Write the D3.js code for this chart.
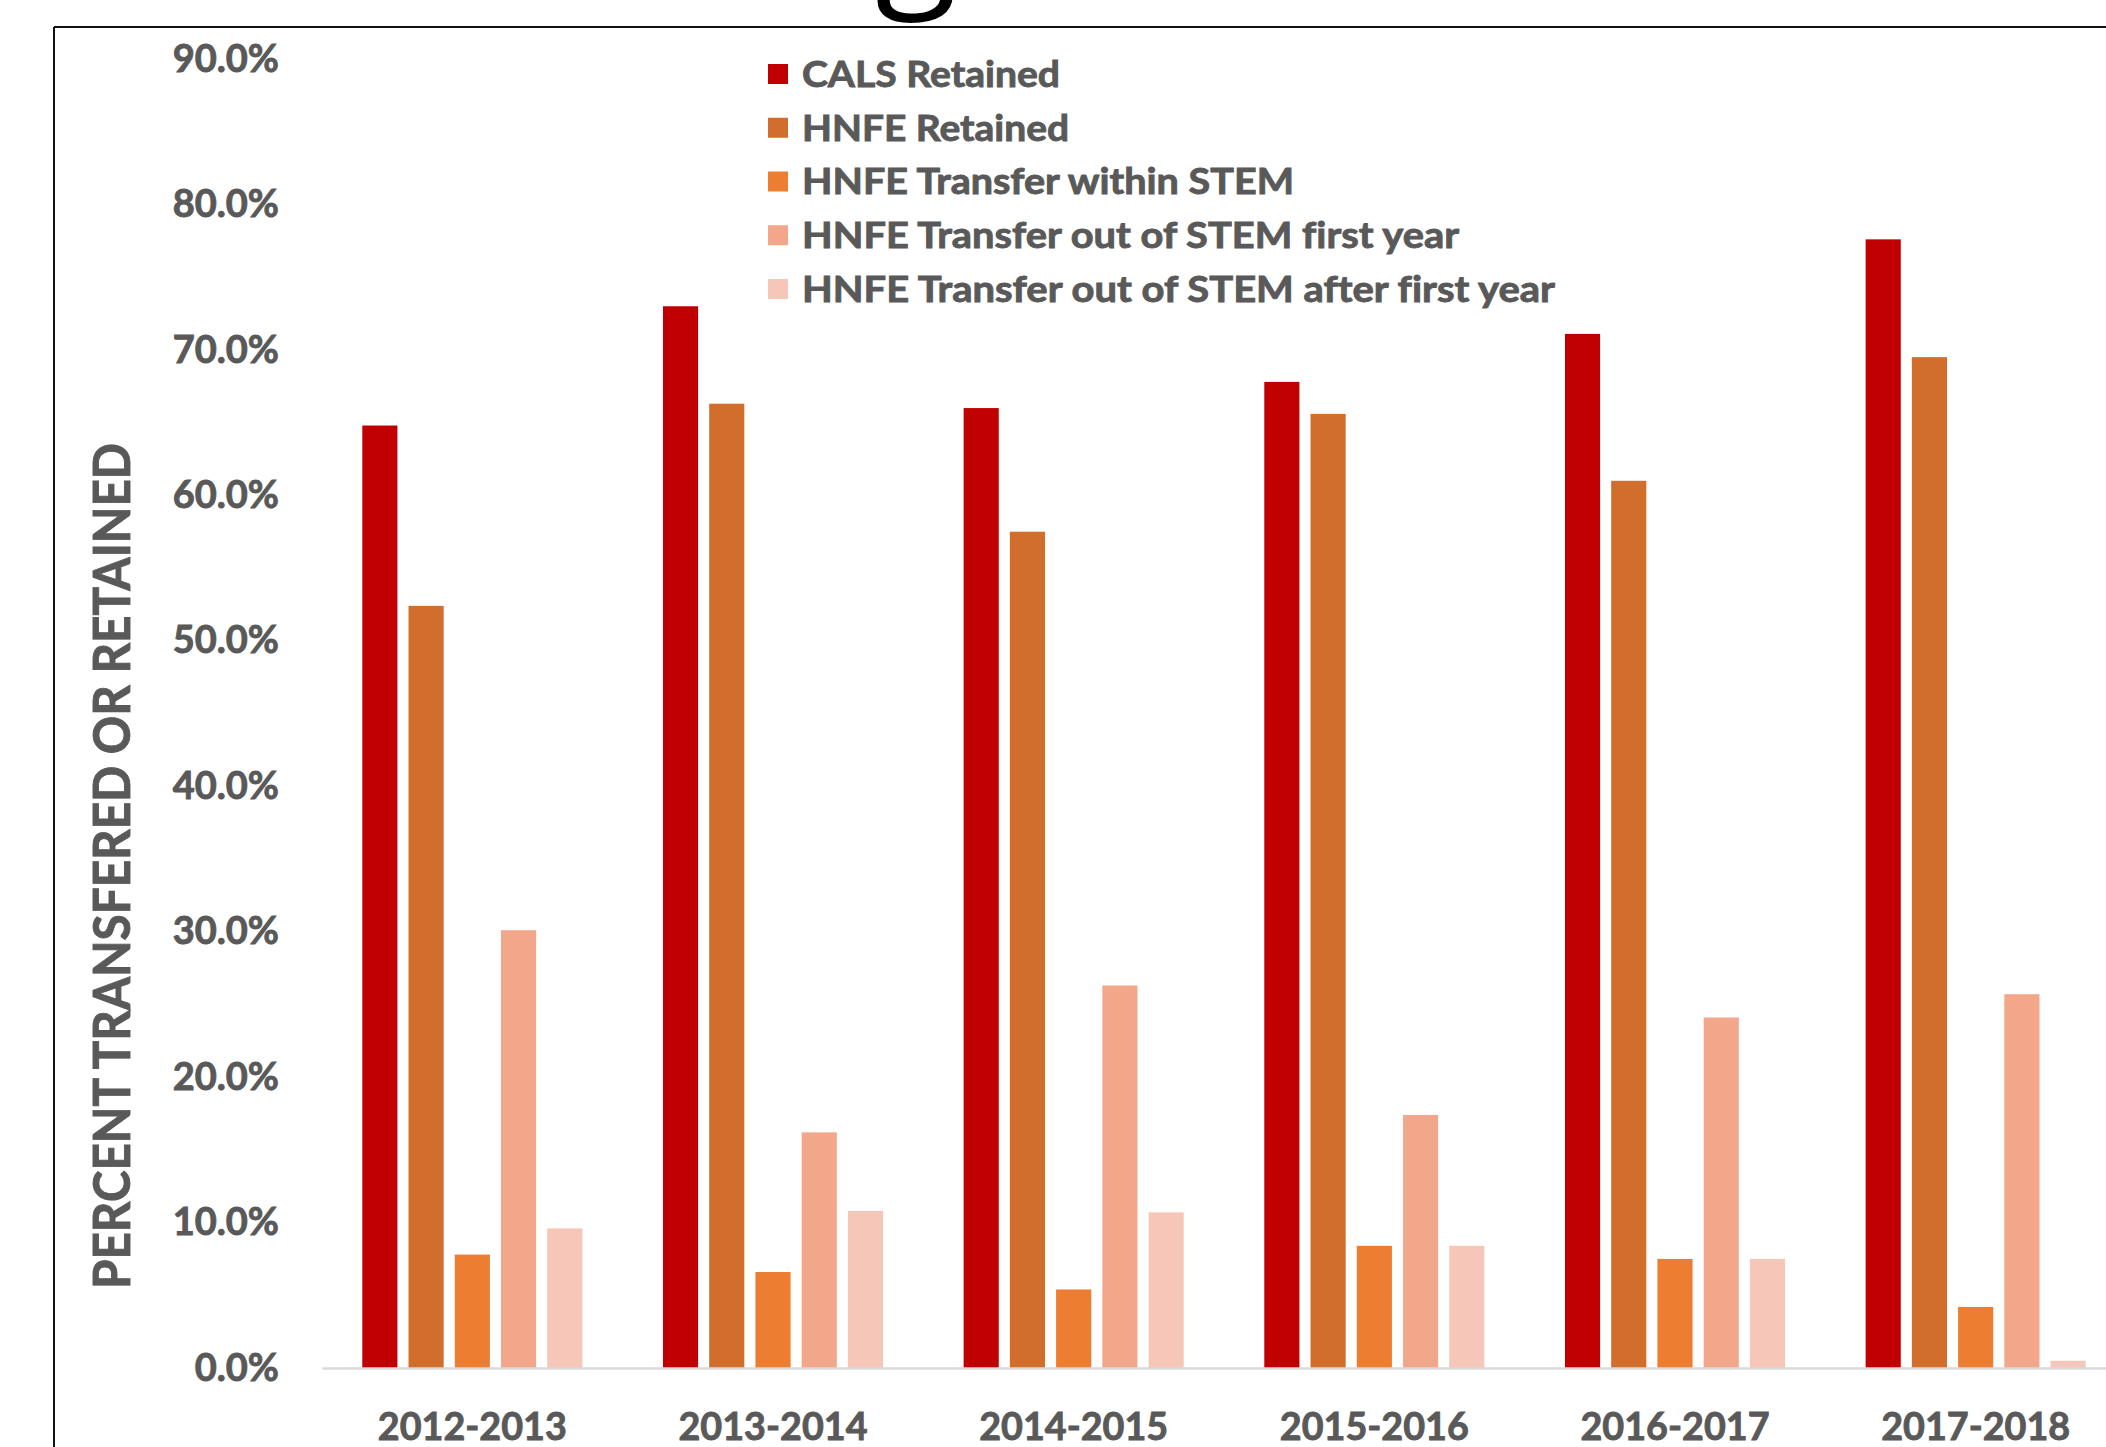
<!DOCTYPE html>
<html>
<head>
<meta charset="utf-8">
<script src="https://cdn.jsdelivr.net/npm/d3@7"></script>
<style>
  html, body { margin: 0; padding: 0; background: #ffffff; }
  svg { display: block; }
  text { font-variant-ligatures: none; }
</style>
</head>
<body>
<script>
// ---- Data ----
const categories = ["2012-2013", "2013-2014", "2014-2015", "2015-2016", "2016-2017", "2017-2018"];
const seriesNames = [
  "CALS Retained",
  "HNFE Retained",
  "HNFE Transfer within STEM",
  "HNFE Transfer out of STEM first year",
  "HNFE Transfer out of STEM after first year"
];
const calsRetained        = [0.648, 0.730, 0.660, 0.678, 0.711, 0.776];
const hnfeRetained        = [0.524, 0.663, 0.575, 0.656, 0.610, 0.695];
const hnfeWithinStem      = [0.078, 0.066, 0.054, 0.084, 0.075, 0.042];
const hnfeOutFirstYear    = [0.301, 0.162, 0.263, 0.174, 0.241, 0.257];
const hnfeOutAfterFirst   = [0.096, 0.108, 0.107, 0.084, 0.075, 0.005];
const yTickValues = [0, 0.1, 0.2, 0.3, 0.4, 0.5, 0.6, 0.7, 0.8, 0.9];
const yAxisTitle = "PERCENT TRANSFERED OR RETAINED";
const colors = ["#C00000", "#D26E2B", "#ED7D31", "#F2A78B", "#F6C7B8"];

const seriesValues = [calsRetained, hnfeRetained, hnfeWithinStem, hnfeOutFirstYear, hnfeOutAfterFirst];
const rows = categories.map((c, i) => ({
  category: c,
  values: seriesNames.map((s, k) => ({ series: s, value: seriesValues[k][i], k }))
}));

// ---- Layout ----
const W = 2106, H = 1447;
const textGray = "#595959";
const font = "Lato, 'Open Sans', sans-serif";
const weight = 700;
const heavy = sel => sel.attr("fill", textGray).attr("stroke", textGray)
  .attr("stroke-width", 0.9).attr("paint-order", "stroke");

const svg = d3.select("body").append("svg").attr("width", W).attr("height", H);
svg.append("rect").attr("width", W).attr("height", H).attr("fill", "#fff");

// Cropped title glyph at top (title text lies above the visible area)
svg.append("text")
  .attr("x", 916).attr("y", -13)
  .attr("text-anchor", "middle")
  .style("font-family", "'Open Sans', sans-serif")
  .style("font-weight", 400)
  .style("font-size", "150px")
  .attr("fill", "#000")
  .text("g");

// Frame
svg.append("line").attr("x1", 54).attr("x2", W).attr("y1", 27).attr("y2", 27)
  .attr("stroke", "#111").attr("stroke-width", 2);
svg.append("line").attr("x1", 54).attr("x2", 54).attr("y1", 27).attr("y2", H)
  .attr("stroke", "#111").attr("stroke-width", 2);

// Scales
const y = d3.scaleLinear().domain([0, 0.9]).range([1368, 59]);
const x0 = d3.scaleBand().domain(categories).range([322, 2126])
  .paddingInner(0.268).paddingOuter(0.134);
const x1 = d3.scaleBand().domain(seriesNames).range([0, x0.bandwidth()])
  .paddingInner(0.24).paddingOuter(0);

// Bars
const groups = svg.append("g").selectAll("g").data(rows).join("g")
  .attr("transform", d => `translate(${x0(d.category)},0)`);
groups.selectAll("rect").data(d => d.values).join("rect")
  .attr("x", d => x1(d.series))
  .attr("width", x1.bandwidth())
  .attr("y", d => y(d.value))
  .attr("height", d => y(0) - y(d.value))
  .attr("fill", d => colors[d.k]);

// X axis
const xAxis = svg.append("g").attr("transform", `translate(0,${y(0)})`)
  .call(d3.axisBottom(x0).tickSize(0).tickPadding(44));
xAxis.select(".domain").attr("stroke", "#D9D9D9").attr("stroke-width", 2.5);
xAxis.selectAll("text")
  .call(heavy)
  .attr("textLength", 189).attr("lengthAdjust", "spacingAndGlyphs")
  .style("font-family", font).style("font-weight", weight).style("font-size", "39px");

// Y axis
const yAxis = svg.append("g").attr("transform", "translate(287,0)")
  .call(d3.axisLeft(y).tickValues(yTickValues).tickFormat(d3.format(".1%")).tickSize(0).tickPadding(8));
yAxis.select(".domain").remove();
yAxis.selectAll("text")
  .call(heavy)
  .style("font-family", font).style("font-weight", weight).style("font-size", "38px");

// Y axis title
svg.append("text")
  .attr("transform", "translate(130,866) rotate(-90)")
  .attr("text-anchor", "middle")
  .call(heavy)
  .attr("textLength", 846).attr("lengthAdjust", "spacingAndGlyphs")
  .style("font-family", font).style("font-weight", weight).style("font-size", "51px")
  .text(yAxisTitle);

// Legend
const legendWidths = [258, 267, 492, 657, 753];
const legend = svg.append("g").selectAll("g").data(seriesNames).join("g")
  .attr("transform", (d, i) => `translate(768,${74 + i * 53.75})`);
legend.append("rect").attr("x", 0).attr("y", -10).attr("width", 20).attr("height", 20)
  .attr("fill", (d, i) => colors[i]);
legend.append("text")
  .attr("x", 34).attr("y", 0).attr("dy", "0.35em")
  .call(heavy)
  .attr("textLength", (d, i) => legendWidths[i]).attr("lengthAdjust", "spacingAndGlyphs")
  .style("font-family", font).style("font-weight", weight).style("font-size", "37px")
  .text(d => d);
</script>
</body>
</html>
